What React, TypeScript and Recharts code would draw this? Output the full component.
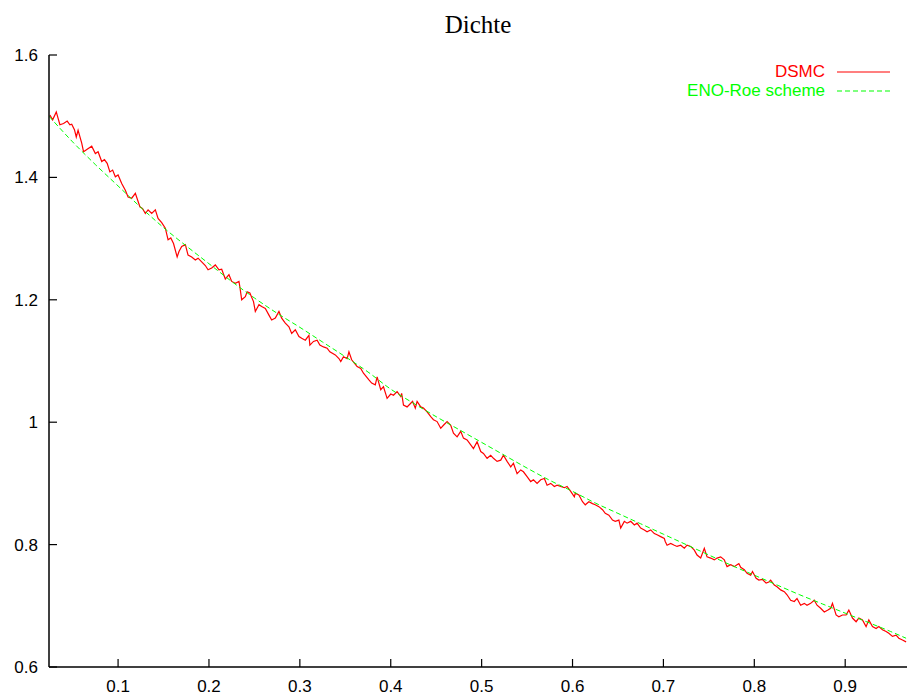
import { LineChart, Line, XAxis, YAxis, Legend } from "recharts";

const xTicks = [0.1, 0.2, 0.3, 0.4, 0.5, 0.6, 0.7, 0.8, 0.9];
const yTicks = [0.6, 0.8, 1, 1.2, 1.4, 1.6];

// DSMC (noisy)
const dsmcX = [
  0.025, 0.028, 0.032, 0.036, 0.04, 0.044, 0.047, 0.049, 0.052, 0.054, 0.056, 0.06, 0.062, 0.066, 0.071, 0.075,
  0.078, 0.082, 0.085, 0.088, 0.091, 0.094, 0.097, 0.1, 0.104, 0.108, 0.111, 0.115, 0.119, 0.124, 0.127, 0.13,
  0.133, 0.137, 0.141, 0.144, 0.148, 0.152, 0.155, 0.158, 0.161, 0.165, 0.167, 0.17, 0.174, 0.177, 0.181, 0.185,
  0.188, 0.192, 0.196, 0.199, 0.203, 0.207, 0.211, 0.214, 0.218, 0.222, 0.225, 0.229, 0.233, 0.234, 0.236, 0.24,
  0.242, 0.245, 0.249, 0.251, 0.255, 0.258, 0.262, 0.266, 0.269, 0.273, 0.277, 0.28, 0.284, 0.288, 0.291, 0.295,
  0.299, 0.302, 0.306, 0.31, 0.311, 0.315, 0.319, 0.322, 0.326, 0.33, 0.333, 0.339, 0.343, 0.345, 0.348, 0.352,
  0.354, 0.357, 0.363, 0.367, 0.37, 0.376, 0.379, 0.383, 0.385, 0.389, 0.392, 0.396, 0.4, 0.403, 0.407, 0.411,
  0.412, 0.414, 0.418, 0.422, 0.424, 0.427, 0.429, 0.433, 0.436, 0.44, 0.444, 0.447, 0.451, 0.455, 0.458, 0.462,
  0.466, 0.469, 0.473, 0.477, 0.48, 0.484, 0.488, 0.491, 0.495, 0.499, 0.502, 0.506, 0.51, 0.513, 0.517, 0.521,
  0.524, 0.528, 0.532, 0.535, 0.539, 0.543, 0.546, 0.55, 0.554, 0.557, 0.561, 0.565, 0.569, 0.572, 0.576, 0.58,
  0.583, 0.587, 0.591, 0.594, 0.598, 0.602, 0.603, 0.607, 0.611, 0.614, 0.618, 0.622, 0.625, 0.629, 0.633, 0.636,
  0.64, 0.644, 0.647, 0.651, 0.653, 0.657, 0.66, 0.664, 0.668, 0.671, 0.675, 0.679, 0.682, 0.686, 0.69, 0.693,
  0.697, 0.701, 0.702, 0.704, 0.708, 0.712, 0.715, 0.719, 0.723, 0.726, 0.73, 0.734, 0.737, 0.741, 0.745, 0.748,
  0.752, 0.756, 0.759, 0.763, 0.767, 0.77, 0.774, 0.778, 0.781, 0.783, 0.785, 0.789, 0.792, 0.796, 0.798, 0.802,
  0.805, 0.809, 0.813, 0.816, 0.818, 0.822, 0.825, 0.829, 0.833, 0.836, 0.84, 0.844, 0.847, 0.851, 0.855, 0.858,
  0.862, 0.866, 0.869, 0.873, 0.877, 0.881, 0.884, 0.886, 0.89, 0.893, 0.897, 0.901, 0.904, 0.908, 0.912, 0.915,
  0.919, 0.923, 0.926, 0.93, 0.934, 0.937, 0.941, 0.945, 0.948, 0.952, 0.956, 0.959, 0.963, 0.967,
];
const dsmcRho = [
  1.502, 1.494, 1.507, 1.486, 1.488, 1.492, 1.486, 1.487, 1.478, 1.466, 1.477, 1.456, 1.442, 1.446, 1.451, 1.439,
  1.442, 1.426, 1.429, 1.423, 1.409, 1.412, 1.401, 1.404, 1.39, 1.379, 1.368, 1.366, 1.374, 1.352, 1.349, 1.341,
  1.347, 1.341, 1.347, 1.333, 1.326, 1.317, 1.298, 1.301, 1.292, 1.27, 1.279, 1.287, 1.29, 1.273, 1.27, 1.265,
  1.268, 1.262, 1.256, 1.249, 1.252, 1.257, 1.249, 1.25, 1.234, 1.241, 1.23, 1.227, 1.23, 1.221, 1.2, 1.205,
  1.213, 1.211, 1.197, 1.181, 1.192, 1.189, 1.186, 1.175, 1.167, 1.17, 1.181, 1.17, 1.162, 1.156, 1.145, 1.151,
  1.14, 1.137, 1.134, 1.142, 1.126, 1.132, 1.134, 1.126, 1.123, 1.121, 1.115, 1.11, 1.104, 1.099, 1.107, 1.104,
  1.115, 1.102, 1.091, 1.088, 1.08, 1.069, 1.064, 1.061, 1.074, 1.053, 1.058, 1.039, 1.046, 1.044, 1.05, 1.042,
  1.047, 1.028, 1.025, 1.031, 1.034, 1.023, 1.034, 1.025, 1.023, 1.017, 1.009, 1.004, 1.001, 0.99, 0.995, 1.001,
  0.995, 0.982, 0.976, 0.985, 0.974, 0.971, 0.963, 0.957, 0.968, 0.952, 0.949, 0.941, 0.946, 0.941, 0.936, 0.938,
  0.946, 0.936, 0.927, 0.933, 0.916, 0.922, 0.919, 0.911, 0.903, 0.906, 0.9, 0.906, 0.908, 0.897, 0.9, 0.895,
  0.897, 0.895, 0.893, 0.895, 0.887, 0.878, 0.884, 0.881, 0.87, 0.865, 0.87, 0.867, 0.865, 0.862, 0.857, 0.851,
  0.848, 0.84, 0.838, 0.84, 0.827, 0.838, 0.835, 0.838, 0.832, 0.835, 0.827, 0.824, 0.821, 0.824, 0.818, 0.816,
  0.813, 0.81, 0.805, 0.799, 0.802, 0.799, 0.797, 0.799, 0.794, 0.799, 0.797, 0.791, 0.783, 0.778, 0.794, 0.78,
  0.778, 0.775, 0.778, 0.78, 0.775, 0.764, 0.767, 0.764, 0.767, 0.769, 0.763, 0.759, 0.753, 0.75, 0.756, 0.745,
  0.742, 0.743, 0.737, 0.739, 0.742, 0.734, 0.731, 0.726, 0.723, 0.718, 0.709, 0.707, 0.712, 0.701, 0.704, 0.701,
  0.704, 0.709, 0.701, 0.696, 0.69, 0.693, 0.696, 0.704, 0.685, 0.682, 0.685, 0.685, 0.693, 0.68, 0.674, 0.68,
  0.677, 0.666, 0.677, 0.666, 0.663, 0.666, 0.661, 0.658, 0.655, 0.65, 0.652, 0.647, 0.644, 0.641,
];

// ENO-Roe scheme (smooth)
const enoX = [
  0.024, 0.05, 0.075, 0.1, 0.125, 0.15, 0.175, 0.2, 0.225, 0.25, 0.275, 0.3, 0.325, 0.35, 0.375, 0.4, 0.425, 0.45,
  0.475, 0.5, 0.525, 0.55, 0.575, 0.6, 0.625, 0.65, 0.675, 0.7, 0.725, 0.75, 0.775, 0.8, 0.825, 0.85, 0.875, 0.9,
  0.925, 0.95, 0.967,
];
const enoRho = [
  1.5, 1.458, 1.421, 1.386, 1.351, 1.318, 1.288, 1.259, 1.23, 1.203, 1.178, 1.155, 1.131, 1.107, 1.082, 1.054,
  1.031, 1.009, 0.988, 0.967, 0.946, 0.925, 0.905, 0.887, 0.868, 0.851, 0.834, 0.817, 0.8, 0.783, 0.766, 0.75,
  0.734, 0.718, 0.703, 0.688, 0.673, 0.658, 0.647,
];

const dsmcData = dsmcX.map((x, i) => ({ x, rho: dsmcRho[i] }));
const enoData = enoX.map((x, i) => ({ x, rho: enoRho[i] }));

const sans = "'Liberation Sans', Arial, Helvetica, sans-serif";
const TICK = 8;
const frame = { stroke: "#000", strokeWidth: 1.5 };

const BottomTick = ({ x, y, payload }: any) => (
  <g>
    <line x1={x} y1={y} x2={x} y2={y - TICK} stroke="#000" strokeWidth={1.2} />
    <text x={x} y={y + 25} textAnchor="middle" fontFamily={sans} fontSize={17} fill="#000">
      {payload.value}
    </text>
  </g>
);
const TopTick = ({ x, y }: any) => <line x1={x} y1={y} x2={x} y2={y + TICK} stroke="#000" strokeWidth={1.2} />;
const LeftTick = ({ x, y, payload }: any) => (
  <g>
    <line x1={x} y1={y} x2={x + TICK} y2={y} stroke="#000" strokeWidth={1.2} />
    <text x={x - 11} y={y + 6} textAnchor="end" fontFamily={sans} fontSize={17} fill="#000">
      {payload.value}
    </text>
  </g>
);
const RightTick = ({ x, y }: any) => <line x1={x} y1={y} x2={x - TICK} y2={y} stroke="#000" strokeWidth={1.2} />;

const LegendBox = () => (
  <div style={{ fontFamily: sans, fontSize: 17 }}>
    <div style={{ display: "flex", justifyContent: "flex-end", alignItems: "center", height: 19.5 }}>
      <span style={{ color: "#ff0000" }}>DSMC</span>
      <svg width={53} height={6} style={{ marginLeft: 12 }}>
        <line x1={0} y1={3} x2={53} y2={3} stroke="#ff0000" strokeWidth={1.2} />
      </svg>
    </div>
    <div style={{ display: "flex", justifyContent: "flex-end", alignItems: "center", height: 19.5 }}>
      <span style={{ color: "#00ff00" }}>ENO-Roe scheme</span>
      <svg width={53} height={6} style={{ marginLeft: 12 }}>
        <line x1={0} y1={3} x2={53} y2={3} stroke="#00ff00" strokeWidth={1.2} strokeDasharray="5 3" />
      </svg>
    </div>
  </div>
);

export default function App() {
  return (
    <div style={{ position: "absolute", left: 0, top: 0, width: 910, height: 700, background: "#fff" }}>
      <div
        style={{
          position: "absolute",
          top: 11,
          left: 49,
          width: 858,
          textAlign: "center",
          fontFamily: "'Liberation Serif', 'Times New Roman', serif",
          fontSize: 25,
          lineHeight: "28px",
        }}
      >
        Dichte
      </div>
      <LineChart width={910} height={700} margin={{ top: 55, right: 3, bottom: 0, left: 0 }}>
        <XAxis
          dataKey="x"
          type="number"
          domain={[0.024, 0.968]}
          allowDataOverflow
          ticks={xTicks}
          height={33}
          tickSize={0}
          tickMargin={0}
          tickLine={false}
          axisLine={frame}
          tick={<BottomTick />}
        />
        <XAxis
          xAxisId="top"
          orientation="top"
          dataKey="x"
          type="number"
          domain={[0.024, 0.968]}
          allowDataOverflow
          ticks={xTicks}
          height={0}
          tickSize={0}
          tickMargin={0}
          tickLine={false}
          axisLine={frame}
          tick={<TopTick />}
        />
        <YAxis
          type="number"
          domain={[0.6, 1.6]}
          allowDataOverflow
          ticks={yTicks}
          width={49}
          tickSize={0}
          tickMargin={0}
          tickLine={false}
          axisLine={frame}
          tick={<LeftTick />}
        />
        <YAxis
          yAxisId="right"
          orientation="right"
          type="number"
          domain={[0.6, 1.6]}
          allowDataOverflow
          ticks={yTicks}
          width={0}
          tickSize={0}
          tickMargin={0}
          tickLine={false}
          axisLine={frame}
          tick={<RightTick />}
        />
        <Legend
          layout="horizontal"
          verticalAlign="middle"
          align="center"
          wrapperStyle={{ top: 62, right: 20, width: "auto" }}
          content={<LegendBox />}
        />
        <Line
          data={dsmcData}
          dataKey="rho"
          type="linear"
          stroke="#ff0000"
          strokeWidth={1.2}
          dot={false}
          activeDot={false}
          isAnimationActive={false}
        />
        <Line
          data={enoData}
          dataKey="rho"
          type="monotone"
          stroke="#00ff00"
          strokeWidth={1}
          strokeDasharray="5 3"
          dot={false}
          activeDot={false}
          isAnimationActive={false}
        />
      </LineChart>
    </div>
  );
}
